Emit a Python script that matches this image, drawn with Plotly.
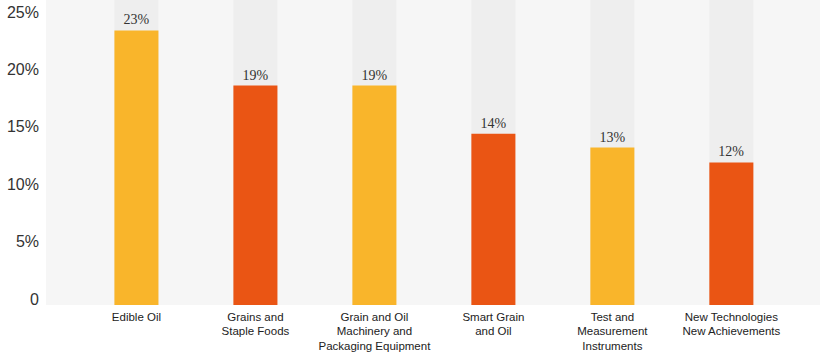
import plotly.graph_objects as go

categories = [
    "Edible Oil",
    "Grains and<br>Staple Foods",
    "Grain and Oil<br>Machinery and<br>Packaging Equipment",
    "Smart Grain<br>and Oil",
    "Test and<br>Measurement<br>Instruments",
    "New Technologies<br>New Achievements",
]
shares = [23.4, 18.6, 18.6, 14.4, 13.2, 11.9]
bar_labels = [f"{round(v)}%" for v in shares]
tick_values = [0, 5, 10, 15, 20, 25]
tick_labels = ["0", "5%", "10%", "15%", "20%", "25%"]

YELLOW = "#F9B52B"
RED = "#EA5514"
bar_colors = [YELLOW, RED, YELLOW, RED, YELLOW, RED]

Y_MIN, Y_MAX = -0.52, 26.05
BAR_W = 0.37

fig = go.Figure()
fig.add_trace(go.Bar(
    x=categories, y=[Y_MAX + 5] * len(categories), base=Y_MIN,
    width=BAR_W, marker=dict(color="#EEEEEE", line=dict(width=0)),
    hoverinfo="skip", showlegend=False,
))
fig.add_trace(go.Bar(
    x=categories, y=[v - Y_MIN for v in shares], base=Y_MIN,
    width=BAR_W, marker=dict(color=bar_colors, line=dict(width=0)),
    text=bar_labels, textposition="outside", cliponaxis=False,
    textfont=dict(family="Liberation Serif, DejaVu Serif, serif", size=14, color="#333333"),
    hoverinfo="skip", showlegend=False,
))

fig.update_layout(
    width=820, height=356,
    margin=dict(l=46, r=0, t=0, b=51, autoexpand=False),
    paper_bgcolor="#FFFFFF",
    plot_bgcolor="#F6F6F6",
    barmode="overlay",
    hovermode=False,
    font=dict(family="Liberation Sans, Arial, sans-serif", color="#333333"),
    xaxis=dict(
        type="category", range=[-0.76, 5.745], automargin=False,
        showgrid=False, zeroline=False, showline=False, ticks="",
        tickfont=dict(size=11.5, color="#222222"),
        ticklabelstandoff=3,
    ),
    yaxis=dict(
        range=[Y_MIN, Y_MAX], tickvals=tick_values, ticktext=tick_labels,
        automargin=False,
        showgrid=False, zeroline=False, showline=False, ticks="",
        tickfont=dict(size=16, color="#333333"),
        ticklabelstandoff=6,
    ),
)

fig.write_html(
    "out.html",
    config={"displayModeBar": False},
    post_script="document.body.style.margin='0';window.dispatchEvent(new Event('resize'));",
)
